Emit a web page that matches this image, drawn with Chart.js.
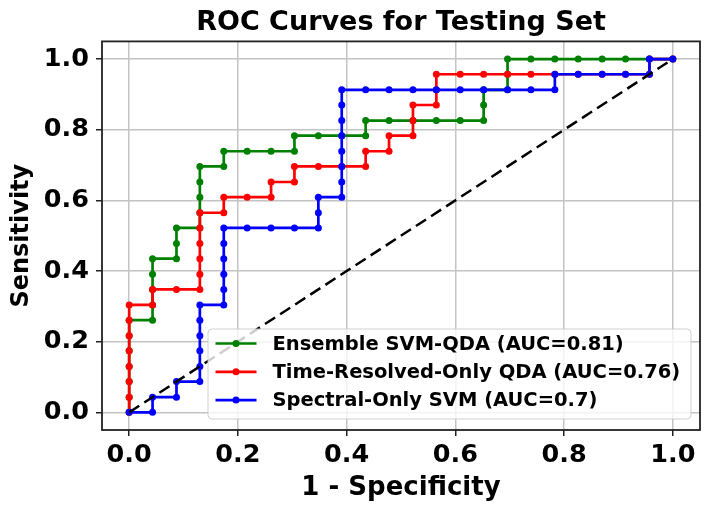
<!DOCTYPE html>
<html>
<head>
<meta charset="utf-8">
<script src="https://cdn.jsdelivr.net/npm/chart.js@4.4.1/dist/chart.umd.min.js"></script>
<style>
  html, body { margin: 0; padding: 0; background: #fff; }
  #wrap { width: 712px; height: 510px; }
</style>
</head>
<body>
<div id="wrap"><canvas id="rocChart" width="712" height="510"></canvas></div>
<script>
// --- data ---
const seriesLabels = [
    'Ensemble SVM-QDA (AUC=0.81)',
    'Time-Resolved-Only QDA (AUC=0.76)',
    'Spectral-Only SVM (AUC=0.7)'
];
const seriesColors = ['#008000', '#ff0000', '#0000ff'];

const ensembleFpr = [0, 0, 0, 0, 0, 0, 0, 0.043, 0.043, 0.043, 0.043, 0.043, 0.087, 0.087, 0.087,
    0.130, 0.130, 0.130, 0.130, 0.130, 0.174, 0.174, 0.217, 0.261, 0.304, 0.304, 0.348, 0.391, 0.435,
    0.435, 0.478, 0.522, 0.565, 0.609, 0.652, 0.652, 0.652, 0.696, 0.696, 0.696, 0.739, 0.783, 0.826,
    0.870, 0.913, 0.957, 1.0];
const ensembleTpr = [0, 0.043, 0.087, 0.130, 0.174, 0.217, 0.261, 0.261, 0.304, 0.348, 0.391, 0.435,
    0.435, 0.478, 0.522, 0.522, 0.565, 0.609, 0.652, 0.696, 0.696, 0.739, 0.739, 0.739, 0.739, 0.783,
    0.783, 0.783, 0.783, 0.826, 0.826, 0.826, 0.826, 0.826, 0.826, 0.870, 0.913, 0.913, 0.957, 1.0,
    1.0, 1.0, 1.0, 1.0, 1.0, 1.0, 1.0];

const timeFpr = [0, 0, 0, 0, 0, 0, 0, 0, 0.043, 0.043, 0.087, 0.130, 0.130, 0.130, 0.130, 0.130, 0.130,
    0.174, 0.174, 0.217, 0.261, 0.261, 0.304, 0.304, 0.348, 0.391, 0.435, 0.435, 0.478, 0.478, 0.522,
    0.522, 0.522, 0.565, 0.565, 0.565, 0.609, 0.652, 0.696, 0.739, 0.783, 0.826, 0.870, 0.913, 0.957,
    0.957, 1.0];
const timeTpr = [0, 0.043, 0.087, 0.130, 0.174, 0.217, 0.261, 0.304, 0.304, 0.348, 0.348, 0.348, 0.391,
    0.435, 0.478, 0.522, 0.565, 0.565, 0.609, 0.609, 0.609, 0.652, 0.652, 0.696, 0.696, 0.696, 0.696,
    0.739, 0.739, 0.783, 0.783, 0.826, 0.870, 0.870, 0.913, 0.957, 0.957, 0.957, 0.957, 0.957, 0.957,
    0.957, 0.957, 0.957, 0.957, 1.0, 1.0];

const spectralFpr = [0, 0.043, 0.043, 0.087, 0.087, 0.130, 0.130, 0.130, 0.130, 0.130, 0.130, 0.174,
    0.174, 0.174, 0.174, 0.174, 0.174, 0.217, 0.261, 0.304, 0.348, 0.348, 0.348, 0.391, 0.391, 0.391,
    0.391, 0.391, 0.391, 0.391, 0.391, 0.435, 0.478, 0.522, 0.565, 0.609, 0.652, 0.696, 0.739, 0.783,
    0.783, 0.826, 0.870, 0.913, 0.957, 0.957, 1.0];
const spectralTpr = [0, 0, 0.043, 0.043, 0.087, 0.087, 0.130, 0.174, 0.217, 0.261, 0.304, 0.304, 0.348,
    0.391, 0.435, 0.478, 0.522, 0.522, 0.522, 0.522, 0.522, 0.565, 0.609, 0.609, 0.652, 0.696, 0.739,
    0.783, 0.826, 0.870, 0.913, 0.913, 0.913, 0.913, 0.913, 0.913, 0.913, 0.913, 0.913, 0.913, 0.957,
    0.957, 0.957, 0.957, 0.957, 1.0, 1.0];

const chanceX = [0, 1];
const chanceY = [0, 1];
const tickValues = [0, 0.2, 0.4, 0.6, 0.8, 1.0];

const toPoints = (xs, ys) => xs.map((x, i) => ({ x: x, y: ys[i] }));
const FONT = '"DejaVu Sans", sans-serif';

function rocSet(i, xs, ys, order) {
    return {
        label: seriesLabels[i],
        data: toPoints(xs, ys),
        borderColor: seriesColors[i],
        backgroundColor: seriesColors[i],
        borderWidth: 2.7,
        pointRadius: 3.5,
        pointHoverRadius: 3.5,
        pointBorderWidth: 0,
        tension: 0,
        order: order
    };
}

// frame round the plot (spines)
const frame = {
    id: 'frame',
    afterDatasetsDraw(chart) {
        const { ctx, chartArea: a } = chart;
        ctx.save();
        ctx.strokeStyle = '#222';
        ctx.lineWidth = 1.8;
        ctx.strokeRect(a.left, a.top, a.right - a.left, a.bottom - a.top);
        ctx.restore();
    }
};

// legend sitting in the lower right of the plot
const legendBox = {
    id: 'legendBox',
    afterDraw(chart) {
        const { ctx, chartArea: a } = chart;
        const x = a.left + 106, y = a.bottom - 101, w = 483, h = 90;
        ctx.save();
        ctx.fillStyle = 'rgba(255,255,255,0.8)';
        ctx.strokeStyle = 'rgba(204,204,204,0.9)';
        ctx.lineWidth = 1;
        ctx.beginPath();
        ctx.roundRect(x, y, w, h, 4);
        ctx.fill();
        ctx.stroke();
        ctx.font = 'bold 19.5px ' + FONT;
        ctx.textBaseline = 'middle';
        seriesLabels.forEach((lab, i) => {
            const ry = y + 14.5 + i * 28.3;
            ctx.strokeStyle = seriesColors[i];
            ctx.lineWidth = 2.7;
            ctx.beginPath();
            ctx.moveTo(x + 7.5, ry);
            ctx.lineTo(x + 48.5, ry);
            ctx.stroke();
            ctx.fillStyle = seriesColors[i];
            ctx.beginPath();
            ctx.arc(x + 28, ry, 3.5, 0, Math.PI * 2);
            ctx.fill();
            ctx.fillStyle = '#000';
            ctx.fillText(lab, x + 64.5, ry + 1);
        });
        ctx.restore();
    }
};

const axisCommon = {
    type: 'linear',
    min: -0.05,
    max: 1.05,
    border: { display: false },
    grid: {
        color: '#c4c4c4',
        lineWidth: 1.5,
        tickLength: 6,
        tickColor: '#222',
        tickWidth: 1.5
    },
    afterBuildTicks: (scale) => { scale.ticks = tickValues.map(v => ({ value: v })); }
};

new Chart(document.getElementById('rocChart'), {
    type: 'line',
    data: {
        datasets: [
            rocSet(0, ensembleFpr, ensembleTpr, 3),
            rocSet(1, timeFpr, timeTpr, 2),
            rocSet(2, spectralFpr, spectralTpr, 1),
            {
                label: 'chance',
                data: toPoints(chanceX, chanceY),
                borderColor: '#000',
                borderWidth: 2.5,
                borderDash: [12, 6],
                pointRadius: 0,
                order: 0
            }
        ]
    },
    options: {
        responsive: false,
        animation: false,
        layout: { padding: { left: 0, right: 12, top: 0, bottom: 0 } },
        plugins: {
            legend: { display: false },
            tooltip: { enabled: false },
            title: {
                display: true,
                text: 'ROC Curves for Testing Set',
                fullSize: false,
                color: '#000',
                font: { family: FONT, size: 27, weight: 'bold', lineHeight: 1.2 },
                padding: { top: 7, bottom: 2 }
            }
        },
        scales: {
            x: Object.assign({}, axisCommon, {
                ticks: {
                    color: '#000',
                    padding: 4,
                    maxRotation: 0,
                    font: { family: FONT, size: 25.5, weight: 'bold' },
                    callback: (v) => v.toFixed(1)
                },
                title: {
                    display: true,
                    text: '1 - Specificity',
                    color: '#000',
                    font: { family: FONT, size: 26, weight: 'bold', lineHeight: 1.2 },
                    padding: { top: 0, bottom: 6 }
                },
                afterFit: (s) => { s.height = 80; }
            }),
            y: Object.assign({}, axisCommon, {
                ticks: {
                    color: '#000',
                    padding: 7,
                    font: { family: FONT, size: 25.5, weight: 'bold' },
                    callback: (v) => v.toFixed(1)
                },
                title: {
                    display: true,
                    text: 'Sensitivity',
                    color: '#000',
                    font: { family: FONT, size: 24, weight: 'bold', lineHeight: 1.2 },
                    padding: { top: 7, bottom: 0 }
                },
                afterFit: (s) => { s.width = 102; }
            })
        }
    },
    plugins: [frame, legendBox]
});
</script>
</body>
</html>
